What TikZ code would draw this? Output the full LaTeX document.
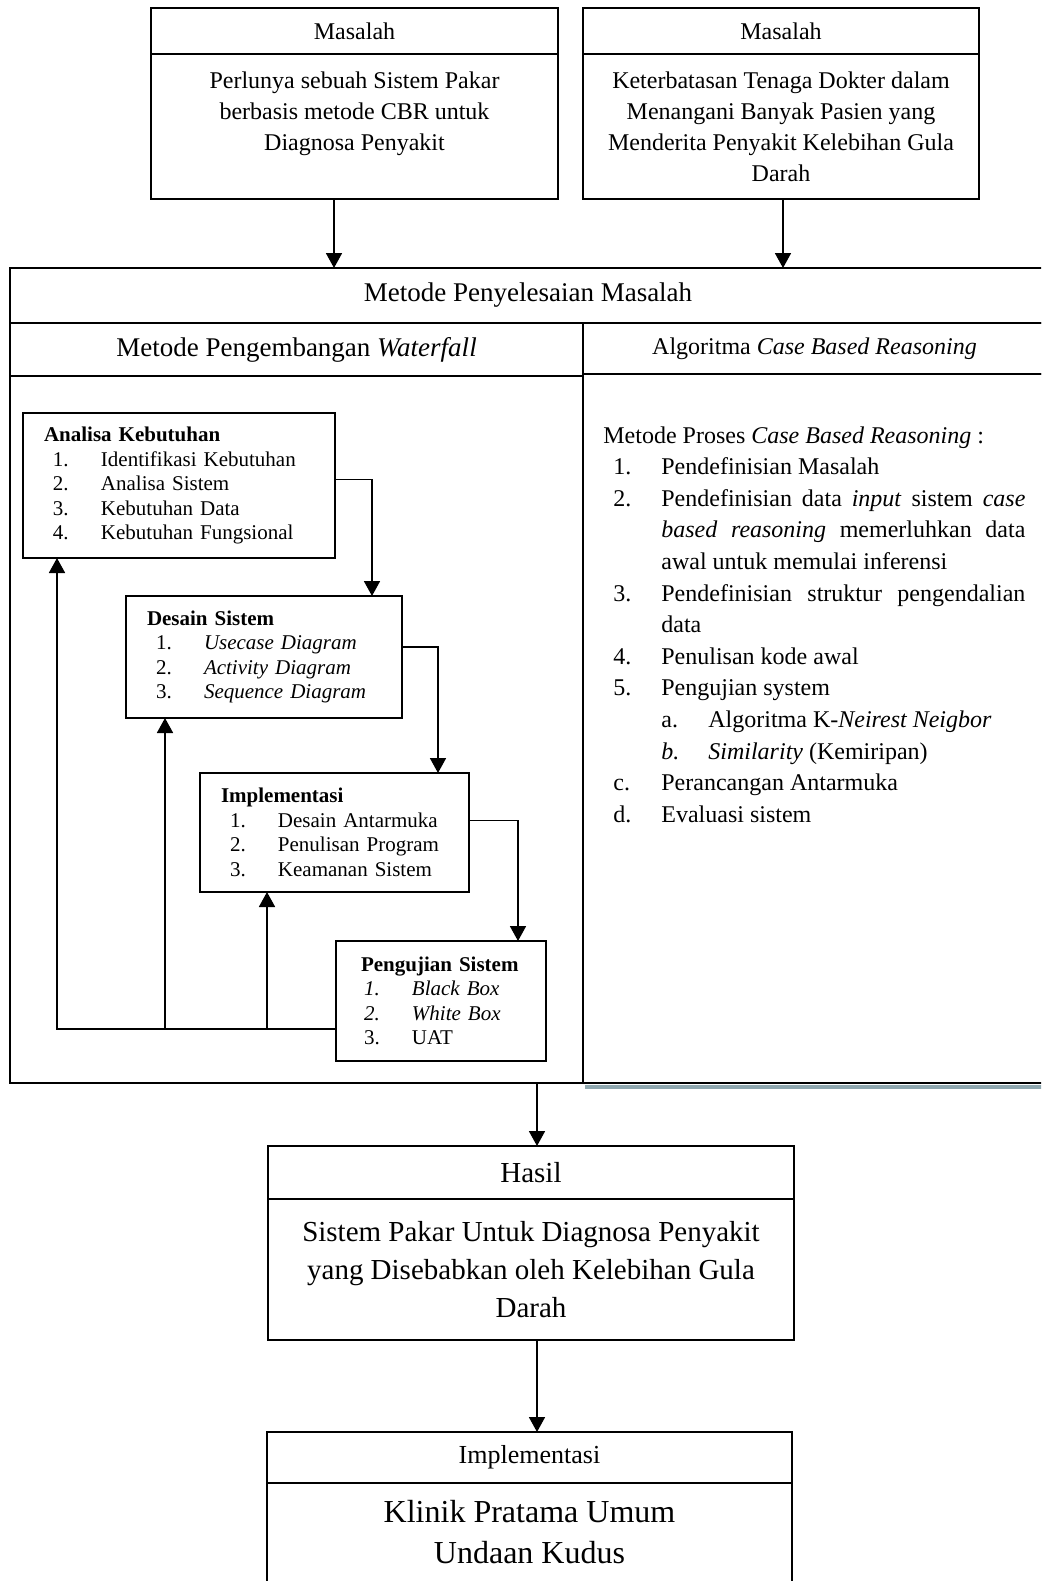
\documentclass[tikz,border=0pt]{standalone}
\usepackage{fontspec}
\setmainfont{Liberation Serif}
\usetikzlibrary{arrows.meta, positioning}

\definecolor{shadowblue}{RGB}{143,168,176}
\setlength{\parskip}{0pt}
\hbadness=10000

\newcommand{\wfitem}[3][4.5pt]{\hspace*{#1}\makebox[24pt][l]{#2}#3}
\newcommand{\cbrnum}[1]{\par\noindent\hangindent=29pt\hangafter=1\hspace*{5pt}\makebox[24pt][l]{#1}}
\newcommand{\cbrsub}[1]{\par\noindent\hspace*{29pt}\makebox[23.5pt][l]{#1}}

\begin{document}
\begin{tikzpicture}[x=0.5pt, y=-0.5pt,
    box/.style={draw, line width=0.9pt, rectangle, inner sep=0pt, outer sep=0pt, align=center},
    head/.style={box, font=\fontsize{12}{15.5}\selectfont},
    wfbox/.style={draw, line width=0.9pt, inner xsep=10.5pt, inner ysep=0pt, outer sep=0pt,
      align=left, font=\fontsize{10.5}{12.25}\selectfont},
    arr/.style={-{Triangle[length=7.5pt, width=8pt]}, line width=0.9pt}]
  \useasboundingbox (0,0) rectangle (1041,1581);
  \clip (0,0) rectangle (1041,1581);

  % Problem boxes
  \node[head, anchor=north west, minimum width=203.5pt, minimum height=23pt] (prob1head) at (151,8) {Masalah};
  \node[head, anchor=north, minimum width=203.5pt, minimum height=72.5pt] (prob1) at (prob1head.south)
    {Perlunya sebuah Sistem Pakar\\berbasis metode CBR untuk\\Diagnosa Penyakit\\~};
  \node[head, anchor=north west, minimum width=198pt, minimum height=23pt] (prob2head) at (583,8) {Masalah};
  \node[head, anchor=north, minimum width=198pt, minimum height=72.5pt] (prob2) at (prob2head.south)
    {Keterbatasan Tenaga Dokter dalam\\Menangani Banyak Pasien yang\\Menderita Penyakit Kelebihan Gula\\Darah};

  % Method frame
  \node[box, anchor=north west, minimum width=518pt, minimum height=27.5pt, line width=1.1pt,
    font=\fontsize{13.5}{16}\selectfont] (mainhead) at (10,268) {Metode Penyelesaian Masalah};
  \node[box, anchor=north west, minimum width=286.5pt, minimum height=26.5pt,
    font=\fontsize{13.5}{16}\selectfont] (wfhead) at (mainhead.south west) {Metode Pengembangan \textit{Waterfall}};
  \node[head, anchor=north west, minimum width=231.5pt, minimum height=25.5pt] (cbrhead) at (wfhead.north east)
    {Algoritma \textit{Case Based Reasoning}};
  \node[box, anchor=north west, minimum width=286.5pt, minimum height=353.5pt, line width=1.1pt] (wfbody) at (wfhead.south west) {};
  \node[box, anchor=north west, minimum width=231.5pt, minimum height=354.5pt, line width=1.1pt] (cbrbody) at (cbrhead.south west) {};
  \draw[shadowblue, line width=2pt] ([xshift=1pt, yshift=-2pt]cbrbody.south west) -- ([yshift=-2pt]cbrbody.south east);

  \coordinate (in1) at ([xshift=-10.25pt]prob1.south);
  \coordinate (in2) at ([xshift=1pt]prob2.south);
  \draw[arr] (in1) -- (in1 |- mainhead.north);
  \draw[arr] (in2) -- (in2 |- mainhead.north);

  % Waterfall stages
  \node[wfbox, anchor=north west, text width=135pt, minimum height=72.5pt] (ana) at (23,413)
    {\textbf{Analisa Kebutuhan}\\
     \wfitem{1.}{Identifikasi Kebutuhan}\\
     \wfitem{2.}{Analisa Sistem}\\
     \wfitem{3.}{Kebutuhan Data}\\
     \wfitem{4.}{Kebutuhan Fungsional}};
  \node[wfbox, anchor=north west, text width=117pt, minimum height=61pt] (des) at (126,596)
    {\textbf{Desain Sistem}\\
     \wfitem{1.}{\textit{Usecase Diagram}}\\
     \wfitem{2.}{\textit{Activity Diagram}}\\
     \wfitem{3.}{\textit{Sequence Diagram}}};
  \node[wfbox, anchor=north west, text width=113.5pt, minimum height=59.5pt] (imp) at (200,773)
    {\textbf{Implementasi}\\
     \wfitem{1.}{Desain Antarmuka}\\
     \wfitem{2.}{Penulisan Program}\\
     \wfitem{3.}{Keamanan Sistem}};
  \node[wfbox, anchor=north west, inner xsep=12.5pt, text width=80pt, minimum height=60pt] (uji) at (336,941)
    {\textbf{Pengujian Sistem}\\
     \wfitem[1.5pt]{\textit{1.}}{\textit{Black Box}}\\
     \wfitem[1.5pt]{\textit{2.}}{\textit{White Box}}\\
     \wfitem[1.5pt]{3.}{UAT}};

  \draw[arr] ([yshift=3pt]ana.east) -| ([xshift=-15pt]des.north east);
  \draw[arr] ([yshift=5pt]des.east) -| ([xshift=-15.5pt]imp.north east);
  \draw[arr] ([yshift=6pt]imp.east) -| ([xshift=-14pt]uji.north east);

  % feedback lines
  \coordinate (back) at ([yshift=-14pt]uji.west);
  \coordinate (toana) at ([xshift=17pt]ana.south west);
  \coordinate (todes) at ([xshift=19.5pt]des.south west);
  \coordinate (toimp) at ([xshift=33.5pt]imp.south west);
  \draw[arr] (back) -| (toana);
  \draw[arr] (back -| todes) -- (todes);
  \draw[arr] (back -| toimp) -- (toimp);

  % CBR steps
  \node[anchor=north west, inner sep=0pt, text width=211pt, align=justify,
    font=\fontsize{12}{15.8}\selectfont] (cbrlist) at (603,426)
    {\noindent Metode Proses \textit{Case Based Reasoning} :
     \cbrnum{1.}Pendefinisian Masalah
     \cbrnum{2.}Pendefinisian data \textit{input} sistem \textit{case}\linebreak
       \textit{based reasoning} memerluhkan data\linebreak awal untuk memulai inferensi
     \cbrnum{3.}Pendefinisian struktur pengendalian\linebreak data
     \cbrnum{4.}Penulisan kode awal
     \cbrnum{5.}Pengujian system
     \cbrsub{a.}Algoritma K-\textit{Neirest Neigbor}
     \cbrsub{\textit{b.}}\textit{Similarity} (Kemiripan)
     \cbrnum{c.}Perancangan Antarmuka
     \cbrnum{d.}Evaluasi sistem\par};

  % Result and implementation
  \node[head, anchor=north west, minimum width=263pt, minimum height=26.5pt,
    font=\fontsize{14.5}{19}\selectfont] (hasilhead) at (268,1146) {Hasil};
  \node[head, anchor=north, minimum width=263pt, minimum height=70.5pt,
    font=\fontsize{14.5}{19}\selectfont] (hasil) at (hasilhead.south)
    {Sistem Pakar Untuk Diagnosa Penyakit\\yang Disebabkan oleh Kelebihan Gula\\Darah};
  \node[head, anchor=north west, minimum width=262.5pt, minimum height=25.5pt,
    font=\fontsize{13}{16}\selectfont] (klinikhead) at (267,1432) {Implementasi};
  \node[head, anchor=north, minimum width=262.5pt, minimum height=53.5pt,
    font=\fontsize{16}{20.5}\selectfont] (klinik) at (klinikhead.south)
    {Klinik Pratama Umum\\Undaan Kudus\rule[-5pt]{0pt}{5pt}};

  \coordinate (out) at ([xshift=3pt]hasilhead.north);
  \draw[arr] (out |- wfbody.south) -- (out);
  \draw[arr] (out |- hasil.south) -- (out |- klinikhead.north);
\end{tikzpicture}
\end{document}
